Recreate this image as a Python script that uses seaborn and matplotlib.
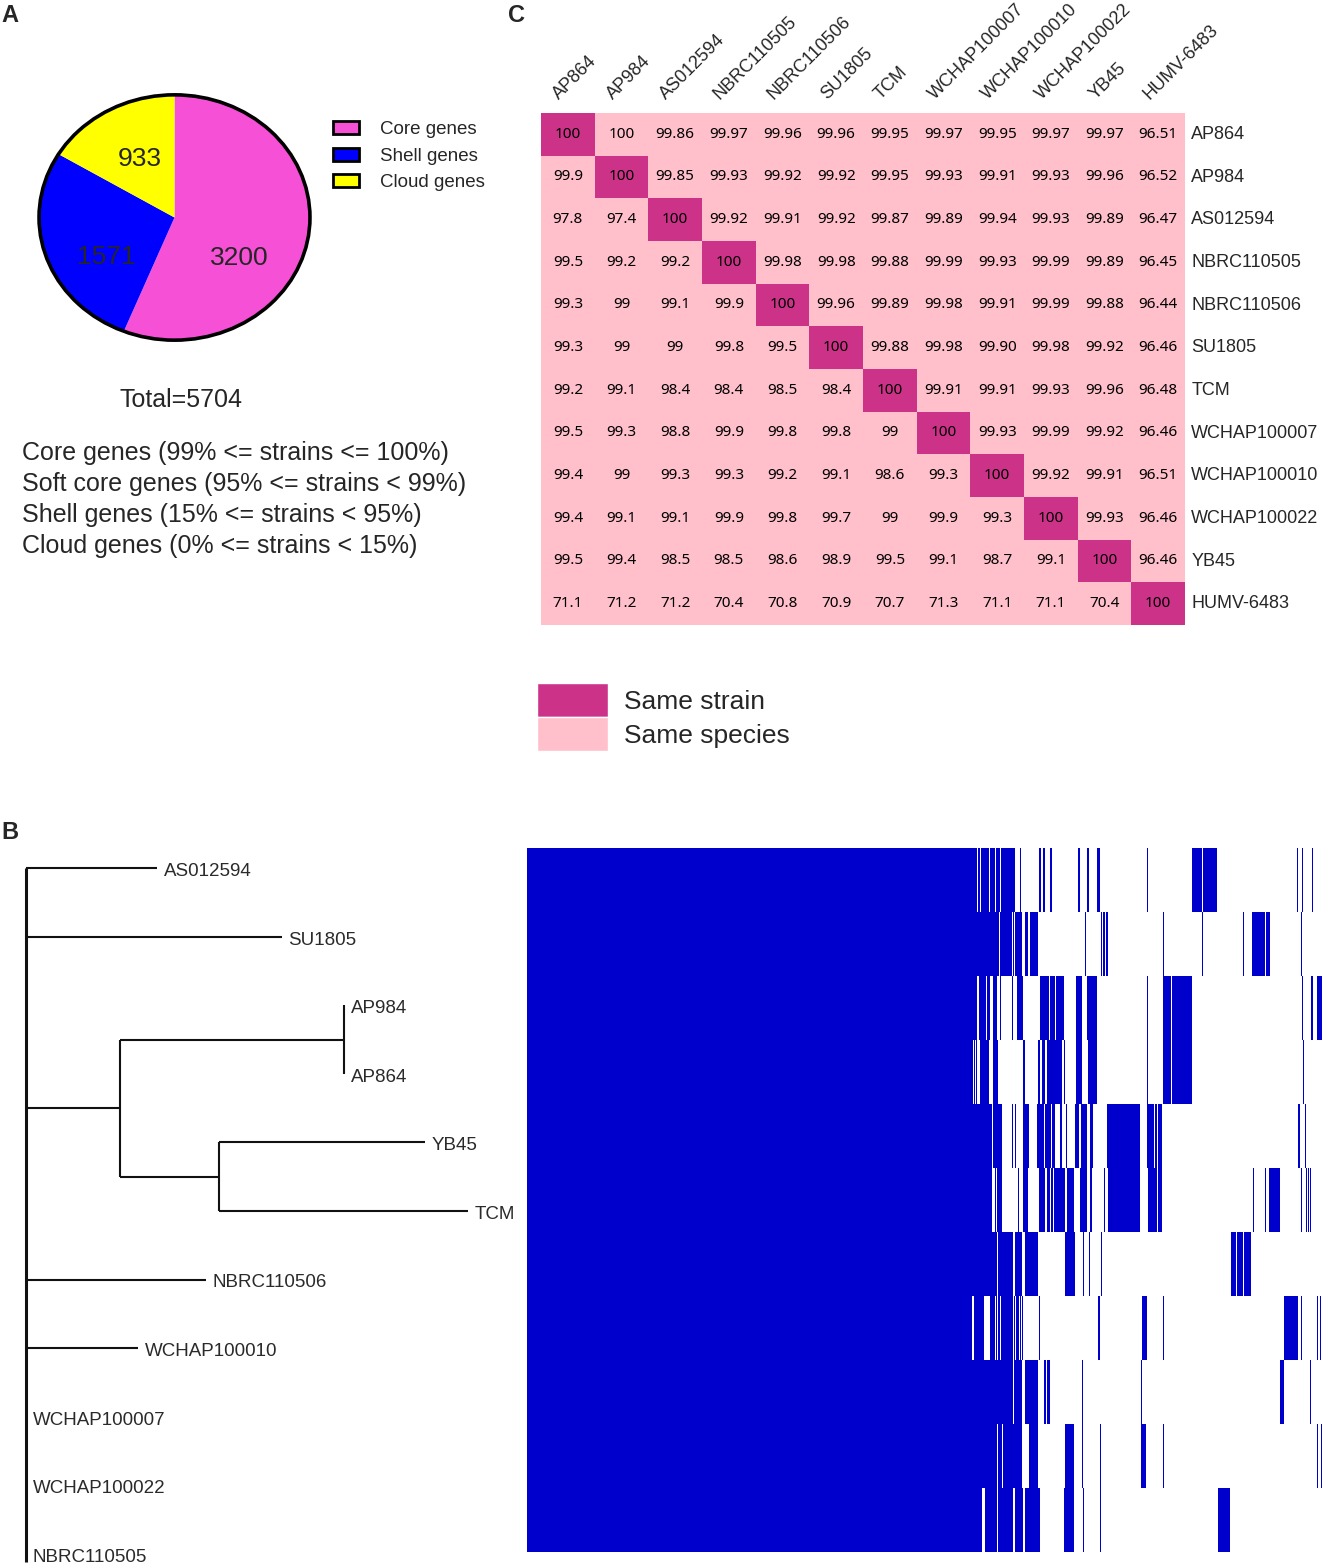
import numpy as np
import matplotlib
matplotlib.use("Agg")
import matplotlib.pyplot as plt
import matplotlib.transforms as mtransforms
from matplotlib import font_manager
from matplotlib.patches import Patch, Circle
from matplotlib.colors import ListedColormap
import seaborn as sns

sns.set_theme(style="white")
plt.rcParams["font.family"] = ["Liberation Sans", "DejaVu Sans"]

# ---------------- data ----------------
pie_labels = ["Core genes", "Shell genes", "Cloud genes"]
pie_values = [3200, 1571, 933]
pie_colors = ["#F650D6", "#0000FF", "#FFFF00"]
total_genes = 5704
category_lines = [
    "Core genes (99% <= strains <= 100%)",
    "Soft core genes (95% <= strains < 99%)",
    "Shell genes (15% <= strains < 95%)",
    "Cloud genes (0% <= strains < 15%)",
]

ani_strains = ["AP864", "AP984", "AS012594", "NBRC110505", "NBRC110506", "SU1805",
               "TCM", "WCHAP100007", "WCHAP100010", "WCHAP100022", "YB45", "HUMV-6483"]
ani_rows = [
    ["100", "100", "99.86", "99.97", "99.96", "99.96", "99.95", "99.97", "99.95", "99.97", "99.97", "96.51"],
    ["99.9", "100", "99.85", "99.93", "99.92", "99.92", "99.95", "99.93", "99.91", "99.93", "99.96", "96.52"],
    ["97.8", "97.4", "100", "99.92", "99.91", "99.92", "99.87", "99.89", "99.94", "99.93", "99.89", "96.47"],
    ["99.5", "99.2", "99.2", "100", "99.98", "99.98", "99.88", "99.99", "99.93", "99.99", "99.89", "96.45"],
    ["99.3", "99", "99.1", "99.9", "100", "99.96", "99.89", "99.98", "99.91", "99.99", "99.88", "96.44"],
    ["99.3", "99", "99", "99.8", "99.5", "100", "99.88", "99.98", "99.90", "99.98", "99.92", "96.46"],
    ["99.2", "99.1", "98.4", "98.4", "98.5", "98.4", "100", "99.91", "99.91", "99.93", "99.96", "96.48"],
    ["99.5", "99.3", "98.8", "99.9", "99.8", "99.8", "99", "100", "99.93", "99.99", "99.92", "96.46"],
    ["99.4", "99", "99.3", "99.3", "99.2", "99.1", "98.6", "99.3", "100", "99.92", "99.91", "96.51"],
    ["99.4", "99.1", "99.1", "99.9", "99.8", "99.7", "99", "99.9", "99.3", "100", "99.93", "96.46"],
    ["99.5", "99.4", "98.5", "98.5", "98.6", "98.9", "99.5", "99.1", "98.7", "99.1", "100", "96.46"],
    ["71.1", "71.2", "71.2", "70.4", "70.8", "70.9", "70.7", "71.3", "71.1", "71.1", "70.4", "100"],
]
ani_legend = ["Same strain", "Same species"]

# phylogeny (branch lengths); leaf order top to bottom
tree = ("", 0.0, [
    ("AS012594", 0.131, []),
    ("SU1805", 0.256, []),
    ("", 0.094, [
        ("", 0.224, [("AP984", 0.0, []), ("AP864", 0.0, [])]),
        ("", 0.099, [("YB45", 0.206, []), ("TCM", 0.249, [])]),
    ]),
    ("NBRC110506", 0.180, []),
    ("WCHAP100010", 0.112, []),
    ("WCHAP100007", 0.0, []),
    ("WCHAP100022", 0.0, []),
    ("NBRC110505", 0.0, []),
])

# gene presence (gene index intervals [start, end)) per strain, in tree order
pa_AS012594 = [[0, 3229], [3233, 3251], [3255, 3315], [3319, 3358], [3362, 3394], [3398, 3502], [3536, 3541],
               [3564, 3569], [3674, 3688], [3703, 3717], [3753, 3767], [3954, 3965], [4018, 4030], [4090, 4112],
               [4447, 4452], [4669, 4674], [4772, 4842], [4848, 4951], [5524, 5529], [5560, 5565], [5632, 5637]]
pa_SU1805 = [[0, 3390], [3396, 3480], [3490, 3494], [3502, 3552], [3574, 3595], [3606, 3667], [3715, 3720],
             [3786, 3791], [3930, 3935], [4004, 4009], [4030, 4035], [4119, 4128], [4133, 4148], [4152, 4169],
             [4454, 4459], [4490, 4495], [4533, 4538], [4562, 4567], [4842, 4847], [5071, 5076], [5136, 5141],
             [5202, 5294], [5300, 5332], [5553, 5558]]
pa_AP984 = [[0, 3229], [3240, 3294], [3301, 3322], [3344, 3373], [3394, 3401], [3480, 3485], [3516, 3559],
            [3681, 3745], [3753, 3790], [3795, 3853], [3939, 3982], [4018, 4090], [4447, 4452], [4564, 4622],
            [4630, 4668], [4674, 4772], [5560, 5565], [5626, 5631], [5635, 5640], [5669, 5704]]
pa_AP864 = [[0, 3200], [3210, 3215], [3222, 3227], [3251, 3315], [3344, 3380], [3484, 3490], [3559, 3574],
            [3667, 3681], [3695, 3717], [3731, 3839], [3853, 3858], [3939, 3982], [4025, 4090], [4447, 4452],
            [4564, 4622], [4630, 4668], [4674, 4772], [5567, 5572]]
pa_YB45 = [[0, 3337], [3344, 3408], [3480, 3485], [3502, 3507], [3559, 3602], [3660, 3710], [3717, 3760],
           [3767, 3789], [3825, 3839], [3868, 3875], [3932, 3960], [3975, 4000], [4005, 4018], [4040, 4061],
           [4130, 4135], [4162, 4399], [4410, 4415], [4449, 4500], [4505, 4520], [4525, 4557], [5533, 5547],
           [5583, 5588], [5600, 5605]]
pa_TCM = [[0, 3337], [3358, 3365], [3373, 3408], [3478, 3483], [3523, 3528], [3559, 3595], [3674, 3720],
          [3731, 3753], [3760, 3775], [3782, 3860], [3875, 3925], [3968, 4018], [4040, 4055], [4143, 4148],
          [4169, 4399], [4403, 4408], [4445, 4450], [4459, 4520], [4527, 4557], [4626, 4631], [4949, 4954],
          [5208, 5213], [5294, 5299], [5325, 5404], [5553, 5558], [5590, 5595], [5605, 5610], [5615, 5622]]
pa_NBRC110506 = [[0, 3373], [3380, 3487], [3502, 3552], [3574, 3667], [3715, 3720], [3751, 3756], [3860, 3932],
                 [3990, 3995], [4033, 4038], [4119, 4124], [5052, 5090], [5095, 5140], [5146, 5195]]
pa_WCHAP100010 = [[0, 3193], [3208, 3279], [3298, 3303], [3322, 3358], [3368, 3373], [3380, 3394], [3401, 3487],
                  [3495, 3502], [3509, 3531], [3540, 3545], [3552, 3559], [3674, 3679], [3729, 3734], [3786, 3791],
                  [3851, 3856], [4097, 4112], [4413, 4449], [4562, 4567], [4669, 4674], [5432, 5530], [5553, 5558],
                  [5669, 5674], [5689, 5694]]
pa_WCHAP100007 = [[0, 3487], [3491, 3552], [3574, 3667], [3710, 3724], [3731, 3753], [3937, 3942], [3982, 3987],
                  [4016, 4021], [4088, 4093], [4406, 4412], [4490, 4495], [5404, 5432], [5617, 5622]]
pa_WCHAP100022 = [[0, 3373], [3380, 3408], [3416, 3552], [3602, 3667], [3715, 3720], [3751, 3756], [3786, 3791],
                  [3860, 3925], [3982, 3987], [4016, 4021], [4110, 4115], [4406, 4442], [4562, 4567], [4626, 4631],
                  [5669, 5674], [5698, 5704]]
pa_NBRC110505 = [[0, 3265], [3287, 3373], [3380, 3487], [3502, 3559], [3574, 3681], [3715, 3720], [3853, 3925],
                 [3990, 3997], [4110, 4115], [4560, 4565], [4959, 5045]]
presence_rows = [pa_AS012594, pa_SU1805, pa_AP984, pa_AP864, pa_YB45, pa_TCM, pa_NBRC110506,
                 pa_WCHAP100010, pa_WCHAP100007, pa_WCHAP100022, pa_NBRC110505]

# ---------------- figure ----------------
W, H = 1322, 1564
fig = plt.figure(figsize=(W / 100, H / 100), dpi=100)
fig.patch.set_facecolor("white")


def ax_px(x0, y0, x1, y1):
    return fig.add_axes([x0 / W, 1 - y1 / H, (x1 - x0) / W, (y1 - y0) / H])


def fx(x):
    return x / W


def fy(y):
    return 1 - y / H


installed = {f.name for f in font_manager.fontManager.ttflist}
if "Liberation Sans Narrow" in installed:
    tree_font = dict(family=["Liberation Sans Narrow", "DejaVu Sans"], fontsize=15)
else:
    tree_font = dict(family=["Liberation Sans", "DejaVu Sans"], fontsize=13.5)

# panel letters
fig.text(fx(1), fy(15), "A", fontsize=17, fontweight="bold", va="center", ha="left")
fig.text(fx(508), fy(15), "C", fontsize=17, fontweight="bold", va="center", ha="left")
fig.text(fx(1), fy(832), "B", fontsize=17, fontweight="bold", va="center", ha="left")

# ---------- Panel A: pie ----------
axp = ax_px(37, 93, 312, 342)
wedges, _ = axp.pie(pie_values, colors=pie_colors, startangle=90, counterclock=False,
                    wedgeprops=dict(linewidth=0))
axp.set_aspect("auto")
axp.set_xlim(-1.015, 1.015)
axp.set_ylim(-1.015, 1.015)
axp.add_patch(Circle((0, 0), 1, fill=False, lw=2.6, edgecolor="black"))
label_r = [0.58, 0.60, 0.54]
label_turn = [-24, 14, -1.5]
for w, v, r, t in zip(wedges, pie_values, label_r, label_turn):
    ang = np.deg2rad((w.theta1 + w.theta2) / 2 + t)
    axp.text(r * np.cos(ang), r * np.sin(ang), str(v), ha="center", va="center", fontsize=19)
axp.axis("off")

fig.legend(handles=[Patch(facecolor=c, edgecolor="black", linewidth=2) for c in pie_colors],
           labels=pie_labels, loc="upper left", bbox_to_anchor=(fx(333), fy(121)),
           frameon=False, fontsize=13.5, handlelength=1.4, handleheight=0.7,
           handletextpad=1.1, labelspacing=0.5, borderpad=0, borderaxespad=0)

fig.text(fx(181), fy(400), f"Total={total_genes}", ha="center", va="center", fontsize=18)
for i, line in enumerate(category_lines):
    fig.text(fx(22), fy(453 + 31 * i), line, ha="left", va="center", fontsize=18)

# ---------- Panel C: ANI heatmap ----------
axh = ax_px(541, 113, 1185, 625)
same_strain = np.eye(len(ani_strains))
sns.heatmap(same_strain, cmap=ListedColormap(["#FFC0CB", "#CC3388"]), annot=np.array(ani_rows), fmt="",
            cbar=False, xticklabels=ani_strains, yticklabels=ani_strains, linewidths=0,
            annot_kws=dict(fontsize=11, color="black", family="Noto Sans"), ax=axh)
axh.xaxis.tick_top()
axh.yaxis.tick_right()
axh.tick_params(axis="x", length=0, pad=9)
axh.tick_params(axis="y", length=0, pad=4.5)
axh.set_xticklabels(ani_strains, rotation=45, ha="left", va="baseline", rotation_mode="anchor", fontsize=13)
axh.set_yticklabels(ani_strains, rotation=0, va="center", fontsize=13)
shift = mtransforms.ScaledTranslation(-9 / 100, 0, fig.dpi_scale_trans)
for lab in axh.get_xticklabels():
    lab.set_transform(lab.get_transform() + shift)

fig.legend(handles=[Patch(facecolor="#CC3388"), Patch(facecolor="#FFC0CB")], labels=ani_legend,
           loc="upper left", bbox_to_anchor=(fx(537), fy(683)), frameon=False, fontsize=19,
           handlelength=2.7, handleheight=1.6, labelspacing=0, handletextpad=0.6,
           borderpad=0, borderaxespad=0)

# ---------- Panel B: tree ----------
axt = ax_px(0, 836, 520, 1564)
axt.set_xlim(-0.026, 0.494)
axt.set_ylim(10.15, -0.47)
axt.axis("off")
leaf_counter = [0]
tree_color = "#111111"


def draw(node, x0, depth=0):
    name, length, children = node
    x = x0 + length
    if not children:
        y = leaf_counter[0]
        leaf_counter[0] += 1
        axt.text(x + 0.0065, y + 0.05, name, ha="left", va="center", color="#2a2a2a", **tree_font)
        return x, y
    ys = []
    for ch in children:
        cx, cy = draw(ch, x, depth + 1)
        axt.plot([x, cx], [cy, cy], color=tree_color, lw=1.5, solid_capstyle="butt")
        ys.append(cy)
    axt.plot([x, x], [min(ys), max(ys) + (0.12 if depth == 0 else 0)], color=tree_color,
             lw=2.2 if depth == 0 else 1.5, solid_capstyle="butt")
    return x, (min(ys) + max(ys)) / 2


draw(tree, 0.0)

# ---------- Panel B: presence/absence matrix ----------
axm = ax_px(527, 848, 1322, 1552)
for i, row in enumerate(presence_rows):
    axm.broken_barh([(s, e - s) for s, e in row], (i, 1), facecolor="#0000CD", linewidth=0)
axm.set_xlim(0, total_genes)
axm.set_ylim(len(presence_rows), 0)
axm.axis("off")

fig.savefig("out.png", dpi=100, facecolor="white")
